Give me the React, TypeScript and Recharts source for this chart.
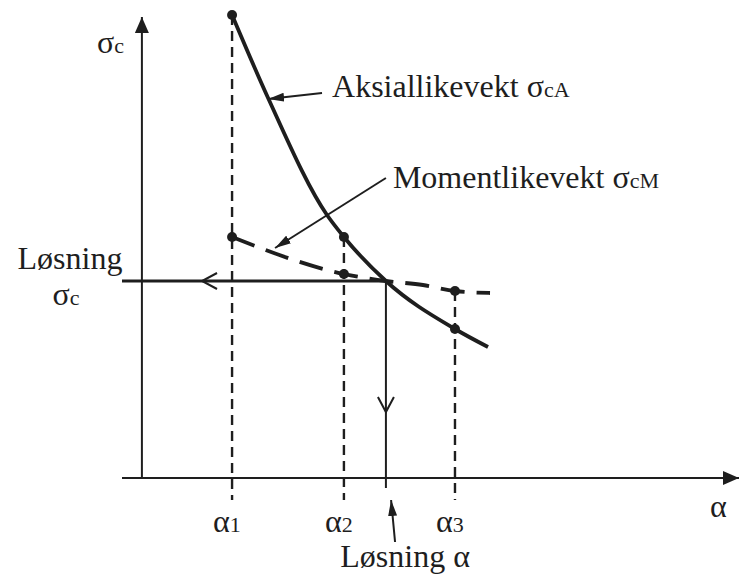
import {
  ComposedChart,
  Line,
  XAxis,
  YAxis,
  ReferenceLine,
  ReferenceDot,
} from "recharts";

const INK = "#1e1e1e";
const FONT = '"Liberation Serif", "Times New Roman", Times, "DejaVu Serif", serif';

// trial values α1, α2, α3 on the α-axis
const alphaTicks = [4.53, 10.15, 15.73];
const alphaIndex = ["1", "2", "3"];

// Aksiallikevekt σcA(α)
const aksialAlpha = [4.53, 6.34, 9.3, 10.15, 12.26, 15.73, 17.39];
const aksialSigma = [23.15, 19.0, 13.15, 12.05, 9.85, 7.45, 6.55];

// Momentlikevekt σcM(α)
const momentAlpha = [4.53, 10.15, 12.26, 14.12, 15.73, 17.49];
const momentSigma = [12.05, 10.2, 9.85, 9.65, 9.35, 9.25];

// marked points at α1, α2, α3
const aksialDots = [23.15, 12.05, 7.45];
const momentDots = [12.05, 10.2, 9.35];

// løsning (intersection)
const solAlpha = 12.26;
const solSigma = 9.85;

// axis extents and annotation anchors (data units)
const xMin = -1;
const xMax = 30;
const yMax = 23.15;
const yAxisTop = 23.05;
const guideBottom = -1.1;
const solArrowAlpha = 3.02;
const solArrowSigma = 3.3;
const solLineBottom = -0.5;
const aksialPointer = [9.05, 19.25, 6.34, 18.95];
const momentPointer = [12.26, 15.0, 6.69, 11.5];
const solPointer = [12.72, -3.2, 12.52, -1.1];

const aksialData = aksialAlpha.map((a, i) => ({ a, s: aksialSigma[i] }));
const momentData = momentAlpha.map((a, i) => ({ a, s: momentSigma[i] }));

function AlphaTick(props: any) {
  const { x, y, payload } = props;
  const i = alphaTicks.indexOf(payload.value);
  return (
    <text
      x={x - 19}
      y={y + 54}
      fontFamily={FONT}
      style={{ fontFamily: FONT }}
      fill={INK}
    >
      <tspan fontSize={32}>α</tspan>
      <tspan fontSize={22}>{alphaIndex[i]}</tspan>
    </text>
  );
}

// text placed relative to a data point
const note = (dx: number, dy: number, anchor: string, children: any) => ({
  content: (p: any) => {
    const vb = p.viewBox || {};
    return (
      <text
        x={vb.x + dx}
        y={vb.y + dy}
        textAnchor={anchor}
        fontFamily={FONT}
        style={{ fontFamily: FONT }}
        fill={INK}
        fontSize={32}
      >
        {children}
      </text>
    );
  },
});

export default function App() {
  const guideTops = alphaTicks.map((_, i) =>
    Math.max(aksialDots[i], momentDots[i])
  );
  return (
    <div style={{ position: "absolute", left: 0, top: 0, background: "#fff" }}>
      <svg width={0} height={0} style={{ position: "absolute" }}>
        <defs>
          <marker
            id="axisHead"
            viewBox="0 0 16 14"
            refX={16}
            refY={7}
            markerWidth={16}
            markerHeight={14}
            markerUnits="userSpaceOnUse"
            orient="auto"
          >
            <path d="M0,0 L16,7 L0,14 Z" fill={INK} />
          </marker>
          <marker
            id="openHead"
            viewBox="-2 -2 20 20"
            refX={15}
            refY={8}
            markerWidth={20}
            markerHeight={20}
            markerUnits="userSpaceOnUse"
            orient="auto"
          >
            <path d="M0,0 L15,8 L0,16" fill="none" stroke={INK} strokeWidth={2} />
          </marker>
          <marker
            id="pointHead"
            viewBox="0 0 16 9"
            refX={16}
            refY={4.5}
            markerWidth={16}
            markerHeight={9}
            markerUnits="userSpaceOnUse"
            orient="auto"
          >
            <path d="M0,0 L16,4.5 L0,9 Z" fill={INK} />
          </marker>
        </defs>
      </svg>

      <ComposedChart
        width={739}
        height={576}
        margin={{ top: 15, right: 0, bottom: 68, left: 122 }}
      >
        <XAxis
          dataKey="a"
          type="number"
          domain={[xMin, xMax]}
          allowDataOverflow
          ticks={alphaTicks}
          interval={0}
          tickLine={false}
          tickSize={0}
          tickMargin={0}
          height={30}
          axisLine={{ stroke: INK, strokeWidth: 2, markerEnd: "url(#axisHead)" }}
          tick={(p: any) => <AlphaTick {...p} />}
        />
        <YAxis hide type="number" domain={[0, yMax]} allowDataOverflow />

        {/* σc axis */}
        <ReferenceLine
          segment={[{ x: 0, y: 0 }, { x: 0, y: yAxisTop }]}
          stroke={INK}
          strokeWidth={2}
          markerEnd="url(#axisHead)"
          ifOverflow="visible"
        />

        {/* dashed guides at α1..α3 */}
        {alphaTicks.map((a, i) => (
          <ReferenceLine
            key={"g" + i}
            segment={[{ x: a, y: guideTops[i] }, { x: a, y: guideBottom }]}
            stroke={INK}
            strokeWidth={2.4}
            strokeDasharray="10 6"
            ifOverflow="visible"
          />
        ))}

        {/* løsning lines */}
        <ReferenceLine
          segment={[{ x: solAlpha, y: solSigma }, { x: solArrowAlpha, y: solSigma }]}
          stroke={INK}
          strokeWidth={3}
          markerEnd="url(#openHead)"
          ifOverflow="visible"
        />
        <ReferenceLine
          segment={[{ x: solArrowAlpha, y: solSigma }, { x: xMin, y: solSigma }]}
          stroke={INK}
          strokeWidth={3}
          ifOverflow="visible"
        />
        <ReferenceLine
          segment={[{ x: solAlpha, y: solSigma }, { x: solAlpha, y: solArrowSigma }]}
          stroke={INK}
          strokeWidth={2}
          markerEnd="url(#openHead)"
          ifOverflow="visible"
        />
        <ReferenceLine
          segment={[{ x: solAlpha, y: solArrowSigma }, { x: solAlpha, y: solLineBottom }]}
          stroke={INK}
          strokeWidth={2}
          ifOverflow="visible"
        />

        <Line
          data={aksialData}
          dataKey="s"
          type="monotone"
          stroke={INK}
          strokeWidth={3.8}
          dot={false}
          isAnimationActive={false}
        />
        <Line
          data={momentData}
          dataKey="s"
          type="monotone"
          stroke={INK}
          strokeWidth={3.8}
          strokeDasharray="24 12"
          dot={false}
          isAnimationActive={false}
        />

        {alphaTicks.map((a, i) => (
          <ReferenceDot key={"da" + i} x={a} y={aksialDots[i]} r={5} fill={INK} stroke="none" ifOverflow="visible" />
        ))}
        {alphaTicks.map((a, i) => (
          <ReferenceDot key={"dm" + i} x={a} y={momentDots[i]} r={5} fill={INK} stroke="none" ifOverflow="visible" />
        ))}

        {/* label pointers */}
        {[aksialPointer, momentPointer, solPointer].map((p, i) => (
          <ReferenceLine
            key={"p" + i}
            segment={[{ x: p[0], y: p[1] }, { x: p[2], y: p[3] }]}
            stroke={INK}
            strokeWidth={2}
            markerEnd="url(#pointHead)"
            ifOverflow="visible"
          />
        ))}

        {/* texts */}
        <ReferenceDot
          x={0}
          y={yAxisTop}
          r={0}
          ifOverflow="visible"
          label={note(-45, 36, "start", [
            <tspan key="s">σ</tspan>,
            <tspan key="c" fontSize={22}>c</tspan>,
          ])}
        />
        <ReferenceDot
          x={aksialPointer[0]}
          y={aksialPointer[1]}
          r={0}
          ifOverflow="visible"
          label={note(10, 4, "start", [
            <tspan key="t">Aksiallikevekt σ</tspan>,
            <tspan key="c" fontSize={22}>cA</tspan>,
          ])}
        />
        <ReferenceDot
          x={momentPointer[0]}
          y={momentPointer[1]}
          r={0}
          ifOverflow="visible"
          label={note(7, 10, "start", [
            <tspan key="t">Momentlikevekt σ</tspan>,
            <tspan key="c" fontSize={22}>cM</tspan>,
          ])}
        />
        <ReferenceDot
          x={xMin}
          y={solSigma}
          r={0}
          ifOverflow="visible"
          label={note(-52, -12, "middle", "Løsning")}
        />
        <ReferenceDot
          x={xMin}
          y={solSigma}
          r={0}
          ifOverflow="visible"
          label={note(-56, 24, "middle", [
            <tspan key="s">σ</tspan>,
            <tspan key="c" fontSize={22}>c</tspan>,
          ])}
        />
        <ReferenceDot
          x={xMax}
          y={0}
          r={0}
          ifOverflow="visible"
          label={note(-29, 39, "start", "α")}
        />
        <ReferenceDot
          x={solPointer[0]}
          y={solPointer[1]}
          r={0}
          ifOverflow="visible"
          label={note(10, 25, "middle", "Løsning α")}
        />
      </ComposedChart>
    </div>
  );
}
